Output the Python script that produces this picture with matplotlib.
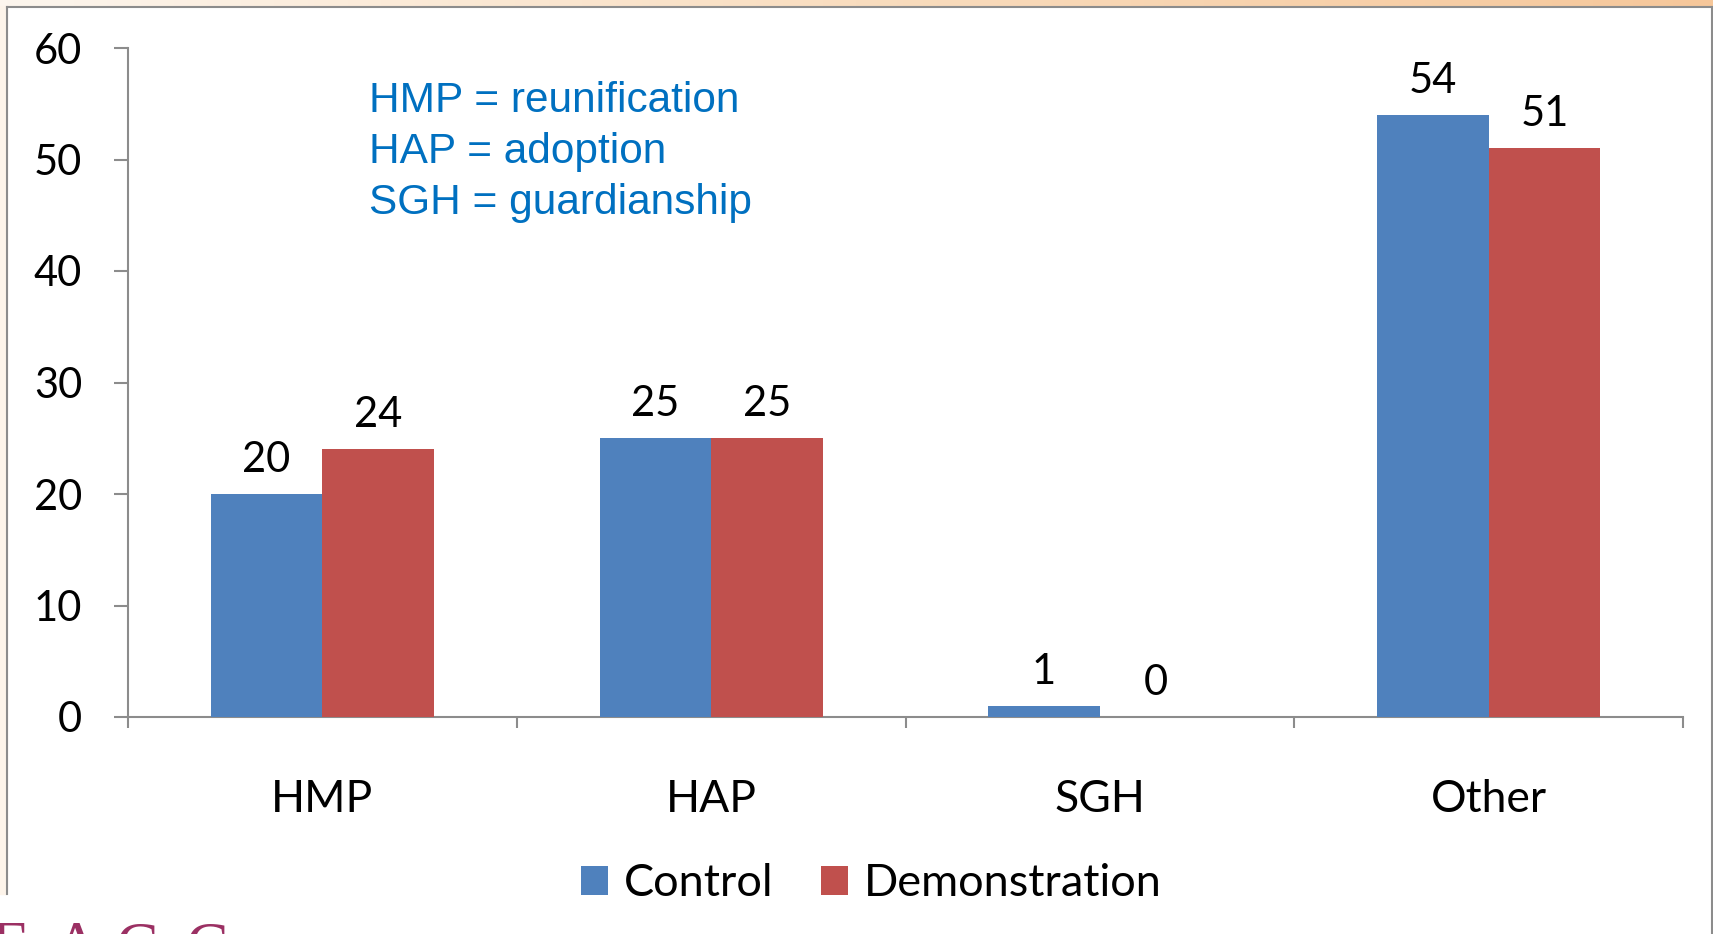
import numpy as np
import matplotlib.pyplot as plt
from matplotlib.lines import Line2D
from matplotlib.patches import Rectangle
from matplotlib.colors import LinearSegmentedColormap

categories = ['HMP', 'HAP', 'SGH', 'Other']
control = [20, 25, 1, 54]
demonstration = [24, 25, 0, 51]
yticks = [0, 10, 20, 30, 40, 50, 60]
notes = ['HMP = reunification', 'HAP = adoption', 'SGH = guardianship']

W, H = 1713, 934
fig = plt.figure(figsize=(W / 100, H / 100), dpi=100)

def fx(px):
    return px / W

def fy(py):
    return 1 - py / H

# slide decoration: orange strip on top, peach strip left, grey frame
strip = fig.add_axes([0, fy(6), 1, 6 / H])
cmap = LinearSegmentedColormap.from_list('top', ['#FDF6EE', '#F9DDBF', '#F6C79A'])
strip.imshow(np.linspace(0, 1, 256).reshape(1, -1), aspect='auto', cmap=cmap)
strip.axis('off')
fig.patches.append(Rectangle((0, fy(894)), fx(7), fy(6) - fy(894), transform=fig.transFigure,
                             color='#FDF4EA', zorder=0))
grey = '#8C8C8C'
fig.lines.append(Line2D([fx(7), 1], [fy(7), fy(7)], transform=fig.transFigure, color=grey, lw=1.5))
fig.lines.append(Line2D([fx(7), fx(7)], [fy(7), fy(894)], transform=fig.transFigure, color=grey, lw=1.5))
fig.lines.append(Line2D([fx(1711.5), fx(1711.5)], [fy(7), 0], transform=fig.transFigure, color=grey, lw=1.5))

ax = fig.add_axes([fx(128), fy(717), fx(1683 - 128), (717 - 48) / H])
font = 'Lato'
x = np.arange(len(categories)) + 0.5
w = 0.287
b1 = ax.bar(x - w / 2, control, w, color='#4F81BD', label='Control', zorder=3)
b2 = ax.bar(x + w / 2, demonstration, w, color='#C0504D', label='Demonstration', zorder=3)
for bars, vals in [(b1, control), (b2, demonstration)]:
    for rect, v in zip(bars, vals):
        ax.annotate(str(v), (rect.get_x() + rect.get_width() / 2, v), xytext=(0, 16),
                    textcoords='offset points', ha='center', va='baseline',
                    fontsize=30, family=font)

ax.set_xlim(0, len(categories))
ax.set_ylim(0, 60)
ax.set_yticks(yticks)
ax.set_yticklabels([str(t) for t in yticks], fontsize=30, family=font)
ax.set_xticks(x)
ax.set_xticklabels(categories, fontsize=32, family=font)
ax.set_xticks(np.arange(len(categories) + 1), minor=True)
ax.tick_params(axis='x', which='major', length=0, pad=45)
ax.tick_params(axis='x', which='minor', length=8, width=1.5, color=grey)
ax.tick_params(axis='y', length=10, width=1.5, color=grey, pad=23)
for s in ['top', 'right']:
    ax.spines[s].set_visible(False)
for s in ['left', 'bottom']:
    ax.spines[s].set_color(grey)
    ax.spines[s].set_linewidth(1.5)

for i, t in enumerate(notes):
    fig.text(fx(369), fy(112 + 51 * i), t, color='#0070C0', fontsize=30.5,
             family='Liberation Sans', va='baseline', ha='left')

fig.legend(handles=[b1, b2], loc='center', bbox_to_anchor=(fx(871), fy(884)), ncol=2,
           frameon=False, prop={'family': font, 'size': 32.5}, handlelength=0.6,
           handleheight=0.6, handletextpad=0.35, columnspacing=1.05)

# logo letters cut off at the bottom of the slide
for ch, px in [('F', -10), ('A', 53), ('C', 115), ('C', 185)]:
    fig.text(fx(px), fy(921), ch, color='#9B3063', fontsize=46, family='Liberation Serif',
             va='top', ha='left')

fig.savefig('out.png', dpi=100)
